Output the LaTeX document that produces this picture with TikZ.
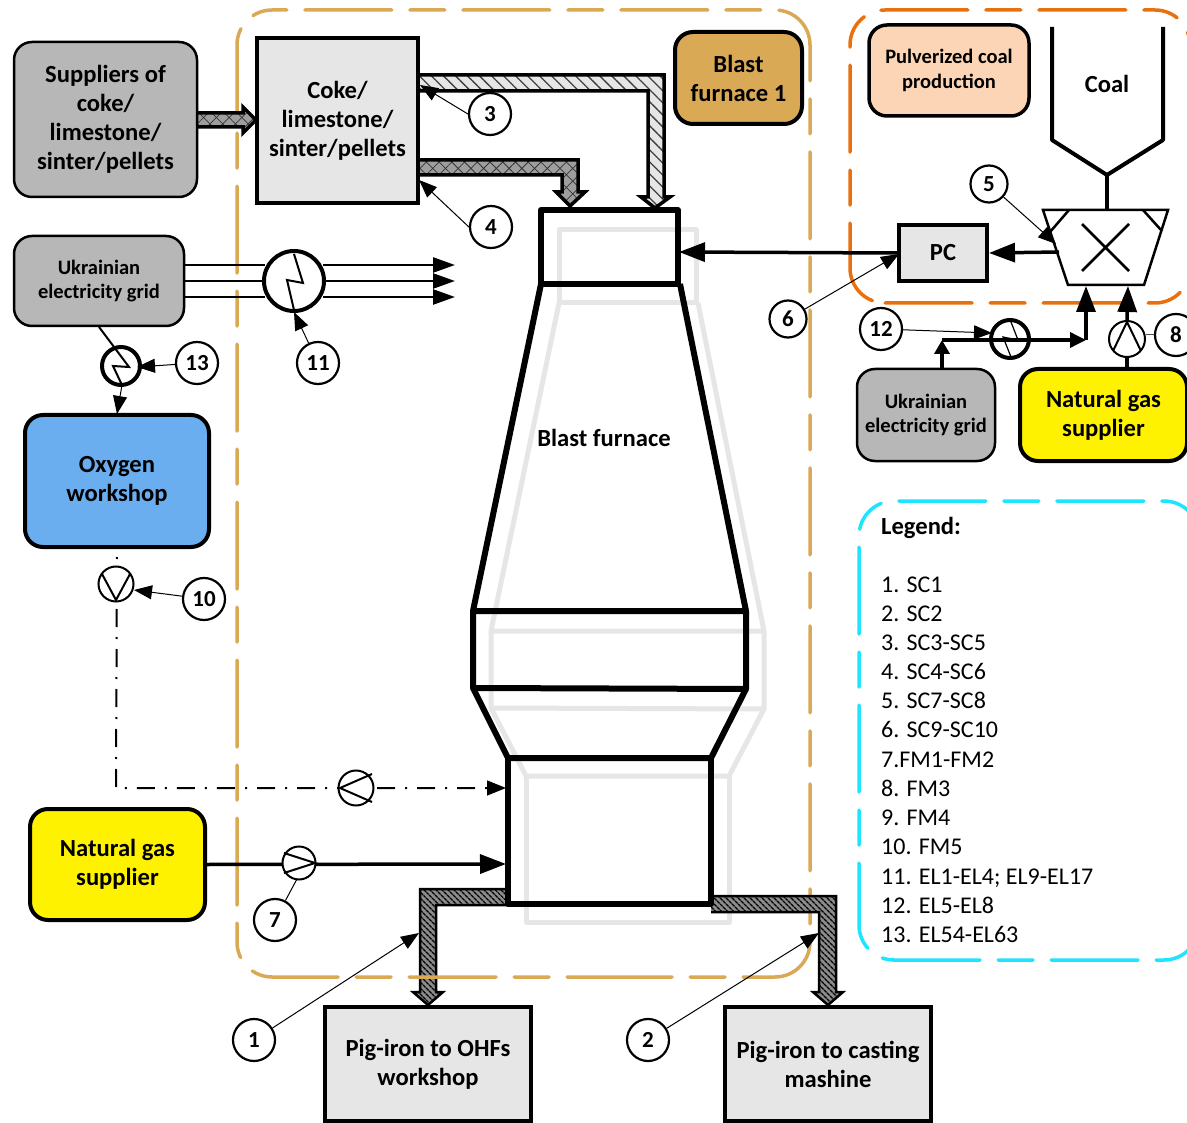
\documentclass[tikz,border=0pt]{standalone}
\usepackage{fontspec}
\setmainfont{Carlito}
\usetikzlibrary{arrows.meta,patterns.meta}
\definecolor{tan1}{HTML}{D9A956}
\definecolor{org}{HTML}{E8700F}
\definecolor{cyn}{HTML}{1DE4FF}
\definecolor{boxg}{HTML}{E6E6E6}
\definecolor{grid}{HTML}{B7B7B7}
\definecolor{oxy}{HTML}{6AAEF0}
\definecolor{peach}{HTML}{FBD5B5}
\tikzset{
  x=1pt,y=-1pt,
  frame/.style={line width=3.5pt,line cap=round,dash pattern=on 87pt off 18pt on 35pt off 18pt},
  box/.style={draw=black,line width=4pt,fill=boxg,align=center,inner sep=0pt,font=\bfseries\fontsize{24.6}{29}\selectfont},
  rbox/.style={box,rounded corners=18pt},
  small/.style={font=\bfseries\fontsize{20.5}{24.5}\selectfont},
  low/.style={execute at begin node={\rule{0pt}{#1}}},
  num/.style={circle,draw=black,line width=2.2pt,fill=white,minimum size=42pt,inner sep=0pt,font=\bfseries\fontsize{23}{25}\selectfont},
  numS/.style={num,minimum size=37pt},
  lead/.style={draw=black,line width=1pt,-{Triangle[length=18pt,width=14pt]}},
  thick1/.style={draw=black,line width=3.5pt,-{Triangle[length=26pt,width=19pt]}},
  mid1/.style={draw=black,line width=2.5pt,-{Triangle[length=22pt,width=15pt]}},
  pumpc/.style={circle,draw=black,line width=2pt,fill=white,minimum size=35pt,inner sep=0pt},
  elec/.style={circle,draw=black,line width=4pt,fill=white,inner sep=0pt},
  shell/.style={draw=black,line width=6pt,line join=round},
  ghost/.style={draw=boxg,line width=5pt,line join=round},
  dd/.style={draw=black,line width=2pt,dash pattern=on 18pt off 10pt on 2pt off 10pt,dash phase=20pt},
  pipeA/.style={draw=black,line width=3.5pt,line join=miter,preaction={fill=boxg},preaction={pattern={Lines[angle=-45,distance=8.5pt,line width=1.3pt]},pattern color=black!75}},
  pipeB/.style={draw=black,line width=3.5pt,line join=miter,preaction={fill=black!38},preaction={pattern={Lines[angle=-45,distance=9pt,line width=.8pt]},pattern color=black!80},preaction={pattern={Lines[angle=45,distance=9pt,line width=.8pt]},pattern color=black!80}},
  pipeC/.style={draw=black,line width=2.5pt,line join=miter,preaction={fill=black!45},preaction={pattern={Lines[angle=-45,distance=4pt,line width=1.5pt]},pattern color=black}},
}
\begin{document}
\begin{tikzpicture}
\useasboundingbox (0,0) rectangle (1187,1123);

% ghost furnace
\draw[ghost] (559,230) rectangle (696,303);
\draw[ghost] (559,303) -- (491,631) -- (764,631) -- (698,303);
\draw[ghost] (491,631) -- (491,708) -- (764,709) -- (764,631);
\draw[ghost] (491,708) -- (526,776) -- (729,776) -- (764,709);
\draw[ghost] (526,776) -- (526,922) -- (729,922) -- (729,776);

% left bottom pipe lies under the tan frame
\draw[pipeC] (508,889) -- (420,889) -- (420,992) -- (413,992) -- (428,1005) -- (443,992) -- (436,992) -- (436,905) -- (508,905);

% frames
\draw[frame,draw=tan1] (585,977) -- (775,977) arc[start angle=90,end angle=0,radius=35] -- (810,45) arc[start angle=0,end angle=-90,radius=35] -- (272,10) arc[start angle=-90,end angle=-180,radius=35] -- (237,942) arc[start angle=180,end angle=90,radius=35] -- cycle;
\draw[frame,draw=org] (885,303) -- (1155,303) arc[start angle=90,end angle=0,radius=35] -- (1190,45) arc[start angle=0,end angle=-90,radius=35] -- (885,10) arc[start angle=-90,end angle=-180,radius=35] -- (850,268) arc[start angle=180,end angle=90,radius=35] -- cycle;
\draw[frame,draw=cyn] (893,960) -- (1164,960) arc[start angle=90,end angle=0,radius=35] -- (1199,536) arc[start angle=0,end angle=-90,radius=35] -- (894,501) arc[start angle=-90,end angle=-180,radius=35] -- (859,925) arc[start angle=180,end angle=90,radius=35] -- cycle;

% right bottom pipe
\draw[pipeC] (711,896) -- (836,896) -- (836,992) -- (843,992) -- (828,1005) -- (813,992) -- (819,992) -- (819,912) -- (711,912);

% upper pipes
\draw[pipeA] (420,75) -- (664,75) -- (664,197) -- (670,197) -- (655,208) -- (641,197) -- (648,197) -- (648,91) -- (420,91);
\draw[pipeB] (420,160) -- (578,160) -- (578,192) -- (585,192) -- (570,206) -- (556,192) -- (562,192) -- (562,175) -- (420,175);
\draw[pipeB] (197,113) -- (243,113) -- (243,107) -- (256,120) -- (243,133) -- (243,127) -- (197,127);

% furnace
\draw[shell] (541,210) rectangle (678,284);
\draw[shell] (541,284) -- (473,611) -- (746,611) -- (680,284);
\draw[shell] (473,611) -- (473,688) -- (746,689) -- (746,611);
\draw[shell] (473,688) -- (508,758) -- (711,758) -- (746,689);
\draw[shell] (508,758) -- (508,904) -- (711,904) -- (711,758);
\coordinate (bfTop) at (679,252);
\coordinate (bfO) at (506,788);
\coordinate (bfG) at (506,864);
\node[font=\bfseries\fontsize{24.6}{29}\selectfont] (bf) at (604,438) {Blast furnace};

% boxes
\node[rbox,low=24pt,fill=grid,line width=2.5pt,minimum width=183pt,minimum height=155pt] (sup) at (105.5,119.5) {Suppliers of\\coke/\\limestone/\\sinter/pellets};
\node[box,low=23pt,minimum width=161pt,minimum height=165pt] (coke) at (337.5,120.5) {Coke/\\limestone/\\sinter/pellets};
\node[rbox,low=20pt,fill=tan1,minimum width=127pt,minimum height=92pt] (bf1) at (738.5,78) {Blast\\furnace 1};
\node[rbox,fill=peach,line width=3.5pt,small,minimum width=160pt,minimum height=91pt] (pcp) at (949,70.5) {Pulverized coal\\production};
\node[rbox,low=18pt,fill=grid,line width=2.5pt,small,minimum width=170pt,minimum height=90pt] (gridL) at (99,281) {Ukrainian\\electricity grid};
\node[rbox,low=22pt,fill=oxy,minimum width=184pt,minimum height=132pt] (oxyw) at (117,481) {Oxygen\\workshop};
\node[rbox,low=23pt,fill=yellow,minimum width=175pt,minimum height=111pt] (ngL) at (117.5,864.5) {Natural gas\\supplier};
\node[box,low=22pt,minimum width=206pt,minimum height=114pt] (ohf) at (428,1064) {Pig-iron to OHFs\\workshop};
\node[box,low=18.5pt,minimum width=206pt,minimum height=114pt] (cast) at (828,1064) {Pig-iron to casting\\mashine};
\node[box,minimum width=88pt,minimum height=56pt] (pc) at (943,253) {PC};
\node[rbox,low=20pt,fill=grid,line width=2.5pt,small,minimum width=138pt,minimum height=92pt] (gridR) at (926,415) {Ukrainian\\electricity grid};
\node[rbox,low=21.5pt,fill=yellow,minimum width=167pt,minimum height=92pt] (ngR) at (1103.5,415) {Natural gas\\supplier};

% coal hopper and mill
\draw[draw=black,line width=4pt,line join=round] (1052,27) -- (1052,140) -- (1107,175) -- (1163,140) -- (1163,27);
\node[font=\bfseries\fontsize{24.6}{29}\selectfont] (coal) at (1107,84) {Coal};
\coordinate (hop) at (1107,175);
\coordinate (millT) at (1107,210);
\draw[draw=black,line width=4pt] (hop) -- (millT);
\draw[draw=black,line width=2.5pt,line join=miter] (1043,210) -- (1168,210) -- (1144,285) -- (1068,285) -- cycle;
\draw[draw=black,line width=2.5pt] (1069,210) -- (1050,232) (1143,210) -- (1161,230);
\draw[draw=black,line width=2.5pt] (1082,224) -- (1129,271) (1129,224) -- (1082,271);
\coordinate (millL) at (1059,252);
\coordinate (millB1) at (1086,286);
\coordinate (millB2) at (1128,286);

\draw[thick1] (millL) -- (pc.east);
\draw[thick1] (pc.west) -- (bfTop);

% electricity left
\node[elec,minimum size=60pt] (e11) at (294,281) {};
\coordinate (t1) at (455,265); \coordinate (t2) at (455,281); \coordinate (t3) at (455,297);
\coordinate (g1) at (184,265); \coordinate (g2) at (184,281); \coordinate (g3) at (184,297);
\draw[draw=black,line width=2.5pt] (g1) -- (265,265) (g2) -- (e11.west) (g3) -- (265,297);
\draw[mid1] (323,265) -- (t1);
\draw[mid1] (e11.east) -- (t2);
\draw[mid1] (323,297) -- (t3);
\draw[draw=black,line width=2pt,line join=miter] (294,254) -- (303,283) -- (287,280) -- (294,310);

\node[elec,minimum size=38pt] (e13) at (121,366) {};
\draw[draw=black,line width=2pt] (99,327) -- (129,367) -- (113,366) -- (122,385);
\coordinate (oxT) at (117,414);
\draw[lead] (122,385) -- (oxT);

% oxygen line
\coordinate (c1) at (116,788);
\draw[dd] (oxyw.south) -- (c1) -- (490,788);
\draw[draw=black,line width=1.5pt,-{Triangle[length=19pt,width=15pt]}] (487,788) -- (bfO);
\node[pumpc] (p10) at (116,584) {};
\draw[draw=black,line width=2pt] (102,574) -- (116,600) -- (130,574);
\node[pumpc] (pO) at (356,788) {};
\draw[draw=black,line width=2pt] (372,774) -- (340,788) -- (372,802);

% gas line
\draw[thick1] (ngL.east) -- (bfG);
\node[pumpc,minimum size=33pt] (p7) at (299,863) {};
\draw[draw=black,line width=2pt] (284,853) -- (315,863) -- (284,873);

% right electricity
\coordinate (gc) at (942,340);
\coordinate (jc) at (1086,340);
\draw[draw=black,line width=3.5pt,-{Triangle[length=14pt,width=15pt]}] (gridR.north -| gc) -- (gc);
\node[elec,minimum size=38pt] (e12) at (1010,339) {};
\draw[draw=black,line width=1.2pt] (1011,322) -- (1018,340) -- (1003,337) -- (1011,357);
\draw[draw=black,line width=3.5pt] (gc) -- (1070,340);
\draw[draw=black,line width=3.5pt,-{Triangle[length=16pt,width=15pt]}] (1040,340) -- (jc);
\draw[thick1] (jc) -- (millB1);

% pump 8
\node[pumpc,minimum size=36pt] (p8) at (1127,339) {};
\draw[draw=black,line width=2pt] (1113,351) -- (1127,322) -- (1141,351);
\draw[draw=black,line width=3.5pt] (ngR.north -| p8) -- (p8.south);
\draw[thick1] (p8.north) -- (millB2);

% numbered labels
\node[num] (n1) at (254,1040) {1};
\node[num] (n2) at (648,1040) {2};
\node[num] (n3) at (490,114) {3};
\node[num] (n4) at (491,227) {4};
\node[numS] (n5) at (989,184) {5};
\node[numS] (n6) at (788,319) {6};
\node[num] (n7) at (275,920) {7};
\node[num] (n8) at (1176,335) {8};
\node[num] (n10) at (204,599) {10};
\node[num] (n11) at (318,363) {11};
\node[num] (n12) at (881,329) {12};
\node[num] (n13) at (197,363) {13};
\coordinate (a1) at (419,933); \coordinate (a2) at (819,933);
\coordinate (a3) at (420,85); \coordinate (a4) at (419,180);
\coordinate (a5) at (1056,244); \coordinate (a6) at (899,254);
\coordinate (a7) at (297,879);
\coordinate (a10) at (134,590); \coordinate (a11) at (294,312);
\coordinate (a12) at (992,333); \coordinate (a13) at (137,367);
\draw[lead] (n1) -- (a1);
\draw[lead] (n2) -- (a2);
\draw[lead] (n3.west) -- (a3);
\draw[lead] (n4.west) -- (a4);
\draw[lead] (n5) -- (a5);
\draw[lead] (n6) -- (a6);
\draw[draw=black,line width=1pt] (n7) -- (a7);
\draw[draw=black!70,line width=1pt] (n8) -- (p8.east |- n8);
\draw[lead] (n10) -- (a10);
\draw[lead] (n11) -- (a11);
\draw[lead] (n12) -- (a12);
\draw[lead] (n13) -- (a13);

% legend
\node[anchor=base west,inner sep=0pt,font=\bfseries\fontsize{24.6}{29}\selectfont] (lg0) at (881,534) {Legend:};
\foreach \nm/\yy/\tx in {l1/592/1. SC1,l2/621/2. SC2,l3/650/3. SC3-SC5,l4/679/4. SC4-SC6,l5/708/5. SC7-SC8,l6/737/6. SC9-SC10,l7/767/7.FM1-FM2,l8/796/8. FM3,l9/825/9. FM4,l10/854/10. FM5,l12/913/12. EL5-EL8,l13/942/13. EL54-EL63}
  \node[anchor=base west,inner sep=0pt,font=\fontsize{24}{29}\selectfont] (\nm) at (881,\yy) {\tx};
\node[anchor=base west,inner sep=0pt,font=\fontsize{24}{29}\selectfont] (l11) at (881,884) {11. EL1-EL4; EL9-EL17};
\end{tikzpicture}
\end{document}
